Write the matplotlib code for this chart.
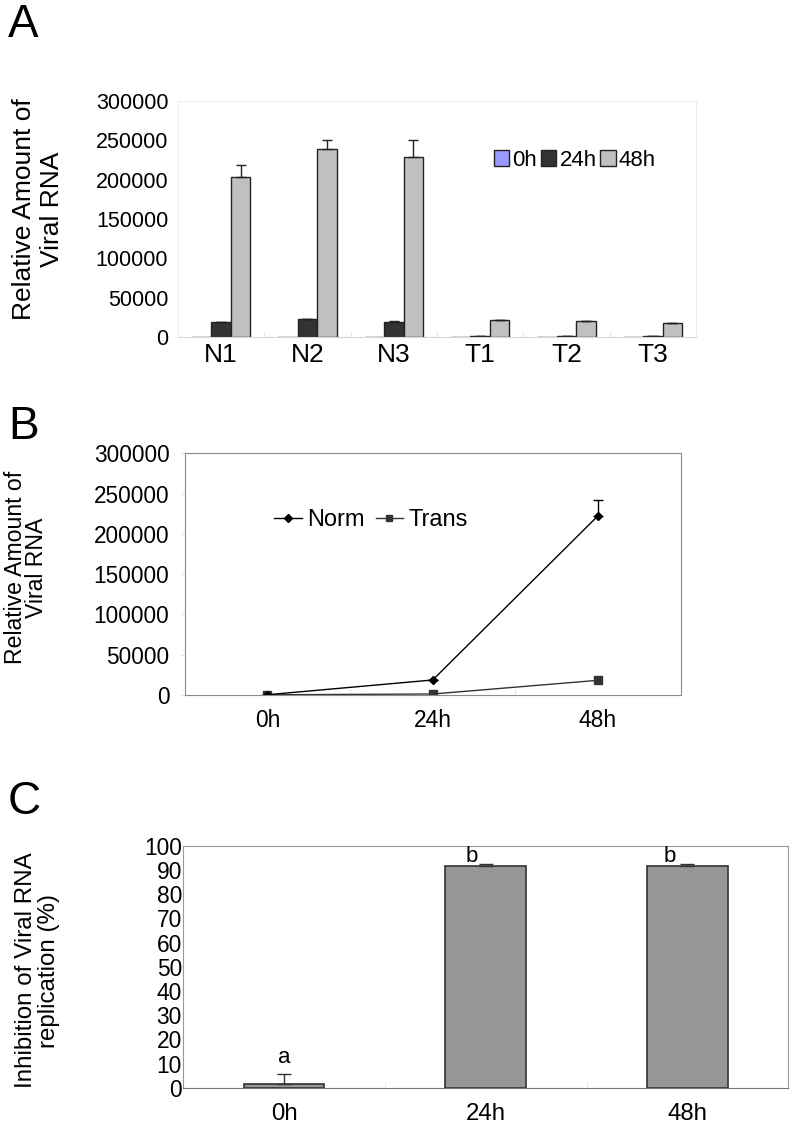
import numpy as np
import matplotlib
matplotlib.use("Agg")
import matplotlib.pyplot as plt
from matplotlib.lines import Line2D

plt.rcParams['font.family'] = ['Liberation Sans', 'DejaVu Sans']

# Panel A data
samples = ['N1', 'N2', 'N3', 'T1', 'T2', 'T3']
times = ['0h', '24h', '48h']
amount_0h = [300, 300, 300, 200, 200, 200]
amount_24h = [18700, 22500, 19500, 1500, 1000, 1000]
amount_48h = [203000, 239000, 229000, 21600, 20000, 17800]
err_24h = [700, 600, 700, 200, 200, 200]
err_48h = [16000, 12000, 22000, 600, 600, 600]

# Panel B data
norm_vals = [300, 18600, 222500]
trans_vals = [200, 1200, 18200]
norm_err = [0, 0, 19500]

# Panel C data
inhibition = [1.4, 91.7, 91.5]
inhibition_err = [4.1, 0.6, 0.8]
letters = ['a', 'b', 'b']

fig = plt.figure(figsize=(7.96, 11.26), dpi=100)

# ---------------- A ----------------
axA = fig.add_axes([0.2236, 0.7007, 0.6508, 0.2096])
x = np.arange(len(samples))
w = 0.226
colorsA = ['#9999ff', '#333333', '#c0c0c0']
axA.bar(x - w, amount_0h, w, color=colorsA[0], edgecolor='#222222', lw=1, label=times[0])
axA.bar(x, amount_24h, w, color=colorsA[1], edgecolor='#222222', lw=1, label=times[1],
        yerr=[np.zeros(6), err_24h], capsize=3.6, error_kw=dict(ecolor='#222222', lw=1))
axA.bar(x + w, amount_48h, w, color=colorsA[2], edgecolor='#222222', lw=1, label=times[2],
        yerr=[np.zeros(6), err_48h], capsize=3.6, error_kw=dict(ecolor='#222222', lw=1))
axA.set_xlim(-0.5, 5.5)
axA.set_ylim(0, 300000)
axA.set_yticks(np.arange(0, 300001, 50000))
axA.set_xticks(x)
axA.set_xticklabels(samples)
axA.tick_params(axis='y', length=0, pad=7, labelsize=15.5)
axA.tick_params(axis='x', length=0, pad=4, labelsize=19)
axA.set_xticks(np.arange(0.5, 5.5, 1), minor=True)
axA.tick_params(axis='x', which='minor', length=4, color='#e0e0e0', direction='in')
for s in ['top', 'right', 'left']:
    axA.spines[s].set_color('#eeeeee')
axA.spines['bottom'].set_color('#d8d8d8')
axA.legend(loc='center', bbox_to_anchor=(0.766, 0.75), ncol=3, frameon=False,
           fontsize=16, handlelength=0.7, handleheight=0.7, handletextpad=0.15,
           columnspacing=0.15, borderaxespad=0)
fig.text(0.048, 0.814, 'Relative Amount of\nViral RNA', rotation=90, ha='center', va='center',
         fontsize=19, linespacing=1.2)
fig.text(0.010, 0.997, 'A', fontsize=33, ha='left', va='top')

# ---------------- B ----------------
axB = fig.add_axes([0.232, 0.3828, 0.6232, 0.2146])
xb = np.arange(len(times))
axB.errorbar(xb, norm_vals, yerr=[np.zeros(3), norm_err], color='black', lw=1,
             marker='D', markersize=4.5, capsize=3.5, elinewidth=1)
axB.plot(xb, trans_vals, color='#333333', lw=1, marker='s', markersize=6)
axB.set_xlim(-0.5, 2.5)
axB.set_ylim(0, 300000)
axB.set_yticks(np.arange(0, 300001, 50000))
axB.set_xticks(xb)
axB.set_xticklabels(times)
axB.tick_params(axis='y', length=3, color='#e0e0e0', pad=8, labelsize=16.3)
axB.tick_params(axis='x', length=0, pad=10, labelsize=16.4)
axB.set_xticks([0.5, 1.5], minor=True)
axB.tick_params(axis='x', which='minor', length=4, color='#e0e0e0', direction='in')
for s in axB.spines.values():
    s.set_color('#8c8c8c')
handlesB = [Line2D([], [], color='black', lw=1, marker='D', markersize=4),
            Line2D([], [], color='#333333', lw=1, marker='s', markersize=5)]
axB.legend(handlesB, ['Norm', 'Trans'], loc='center', bbox_to_anchor=(0.376, 0.724), ncol=2,
           frameon=False, fontsize=17, handlelength=1.15, handletextpad=0.25,
           columnspacing=0.45, borderaxespad=0)
fig.text(0.033, 0.496, 'Relative Amount of\nViral RNA', rotation=90, ha='center', va='center',
         fontsize=16.6, linespacing=0.9)
fig.text(0.010, 0.640, 'B', fontsize=33, ha='left', va='top')

# ---------------- C ----------------
axC = fig.add_axes([0.2303, 0.034, 0.76, 0.2149])
axC.bar(xb, inhibition, 0.4, color='#969696', edgecolor='#333333', lw=1.2,
        yerr=[np.zeros(3), inhibition_err], capsize=5, error_kw=dict(ecolor='#333333', lw=1))
axC.set_xlim(-0.5, 2.5)
axC.set_ylim(0, 100)
axC.set_yticks(np.arange(0, 101, 10))
axC.set_xticks(xb)
axC.set_xticklabels(times)
axC.tick_params(axis='y', length=0, pad=1, labelsize=16.4)
axC.tick_params(axis='x', length=0, pad=11, labelsize=17.3)
axC.set_xticks([0.5, 1.5], minor=True)
axC.tick_params(axis='x', which='minor', length=4, color='#e0e0e0', direction='in')
for s in ['top', 'right', 'left']:
    axC.spines[s].set_color('#999999')
axC.spines['bottom'].set_color('#777777')
letter_x = [0, 0.93, 1.91]
letter_y = [12.3, 95.5, 95.5]
for lx, ly, t in zip(letter_x, letter_y, letters):
    axC.text(lx, ly, t, ha='center', va='center', fontsize=16)
fig.text(0.047, 0.138, 'Inhibition of Viral RNA\nreplication (%)', rotation=90, ha='center',
         va='center', fontsize=17.4, linespacing=1.07)
fig.text(0.010, 0.307, 'C', fontsize=33, ha='left', va='top')

fig.savefig('out.png', dpi=100)
